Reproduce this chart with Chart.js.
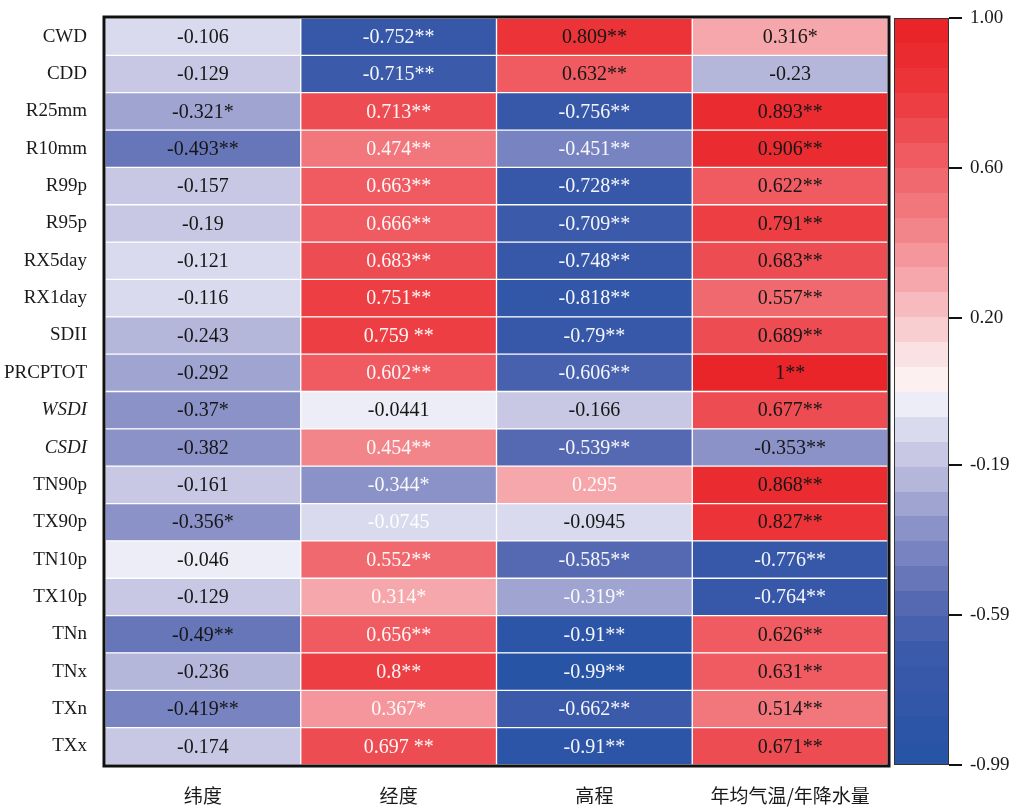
<!DOCTYPE html>
<html>
<head>
<meta charset="utf-8">
<script src="https://cdn.jsdelivr.net/npm/chart.js@4.4.1/dist/chart.umd.min.js"></script>
<style>
  html, body { margin: 0; padding: 0; background: #ffffff; }
  #wrap { width: 1016px; height: 808px; position: relative; }
</style>
</head>
<body>
<div id="wrap"><canvas id="c" width="1016" height="808"></canvas></div>
<script>
// ---------------- DATA ----------------
const rowLabels = ['CWD','CDD','R25mm','R10mm','R99p','R95p','RX5day','RX1day','SDII','PRCPTOT',
                   'WSDI','CSDI','TN90p','TX90p','TN10p','TX10p','TNn','TNx','TXn','TXx'];
const colLabels = ['纬度','经度','高程','年均气温/年降水量'];

const latValues  = [-0.106,-0.129,-0.321,-0.493,-0.157,-0.19,-0.121,-0.116,-0.243,-0.292,
                    -0.37,-0.382,-0.161,-0.356,-0.046,-0.129,-0.49,-0.236,-0.419,-0.174];
const latSig     = ['','','*','**','','','','','','', '*','','','*','','','**','','**',''];

const lonValues  = [-0.752,-0.715,0.713,0.474,0.663,0.666,0.683,0.751,0.759,0.602,
                    -0.0441,0.454,-0.344,-0.0745,0.552,0.314,0.656,0.8,0.367,0.697];
const lonSig     = ['**','**','**','**','**','**','**','**',' **','**', '','**','*','','**','*','**','**','*',' **'];

const elevValues = [0.809,0.632,-0.756,-0.451,-0.728,-0.709,-0.748,-0.818,-0.79,-0.606,
                    -0.166,-0.539,0.295,-0.0945,-0.585,-0.319,-0.91,-0.99,-0.662,-0.91];
const elevSig    = ['**','**','**','**','**','**','**','**','**','**', '','**','','','**','*','**','**','**','**'];

const climValues = [0.316,-0.23,0.893,0.906,0.622,0.791,0.683,0.557,0.689,1,
                    0.677,-0.353,0.868,0.827,-0.776,-0.764,0.626,0.631,0.514,0.671];
const climSig    = ['*','','**','**','**','**','**','**','**','**', '**','**','**','**','**','**','**','**','**','**'];

const colorbarTicks = [1.00, 0.60, 0.20, -0.19, -0.59, -0.99];
const scaleMin = -0.99, scaleMax = 1.00;

// ---------------- STYLE ----------------
const nBands = 30;
const cmapStops = [
  [-0.99, [38,83,165]],
  [-0.69, [60,90,170]],
  [-0.56, [85,104,178]],
  [-0.36, [138,146,200]],
  [-0.227,[180,182,218]],
  [-0.16, [200,200,228]],
  [-0.094,[218,218,238]],
  [-0.028,[236,237,246]],
  [0.038, [252,240,240]],
  [0.105, [250,225,228]],
  [0.30,  [245,168,172]],
  [0.44,  [242,132,137]],
  [0.63,  [239,92,98]],
  [0.80,  [235,55,60]],
  [1.00,  [234,33,39]]
];
// which cells use white text (per column, row indices)
const whiteText = [
  [],
  [0,1,2,3,4,5,6,7,8,9,11,12,13,14,15,16,17,18,19],
  [2,3,4,5,6,7,8,9,11,12,14,15,16,17,18,19],
  [14,15]
];
const italicRows = ['WSDI','CSDI'];

function cmap(v) {
  if (v <= cmapStops[0][0]) return cmapStops[0][1];
  for (let i = 1; i < cmapStops.length; i++) {
    const [v1, c1] = cmapStops[i];
    const [v0, c0] = cmapStops[i-1];
    if (v <= v1) {
      const t = (v - v0) / (v1 - v0);
      return c0.map((a, k) => Math.round(a + (c1[k] - a) * t));
    }
  }
  return cmapStops[cmapStops.length-1][1];
}
const bandStep = (scaleMax - scaleMin) / nBands;
function bandIndex(v) {
  let k = Math.floor((v - scaleMin) / bandStep + 1e-9);
  return Math.max(0, Math.min(nBands - 1, k));
}
function bandColor(k) {
  const c = cmap(scaleMin + (k + 0.5) * bandStep);
  return `rgb(${c[0]},${c[1]},${c[2]})`;
}
function valueColor(v) { return bandColor(bandIndex(v)); }

const columns = [
  [latValues, latSig],
  [lonValues, lonSig],
  [elevValues, elevSig],
  [climValues, climSig]
];

const datasets = columns.map(([vals, sig], c) => ({
  label: colLabels[c],
  data: rowLabels.map((r, i) => ({ y: r, x: [c, c + 1], v: vals[i], s: sig[i] })),
  backgroundColor: ctx => ctx.raw ? valueColor(ctx.raw.v) : '#fff',
  borderColor: '#ffffff',
  borderWidth: 1,
  borderSkipped: false,
  grouped: false,
  barPercentage: 1,
  categoryPercentage: 1
}));

const serif = "'Liberation Serif', 'DejaVu Serif', serif";

const heatPlugin = {
  id: 'heatPlugin',
  afterDatasetsDraw(chart) {
    const ctx = chart.ctx;
    const ca = chart.chartArea;
    ctx.save();
    // cell labels
    ctx.font = `20px ${serif}`;
    ctx.textAlign = 'center';
    ctx.textBaseline = 'middle';
    chart.data.datasets.forEach((ds, c) => {
      const meta = chart.getDatasetMeta(c);
      meta.data.forEach((el, i) => {
        const raw = ds.data[i];
        const cx = (el.x + el.base) / 2;
        ctx.fillStyle = whiteText[c].includes(i) ? 'rgba(255,255,255,0.95)' : '#161616';
        ctx.fillText(String(raw.v) + raw.s, cx, el.y + 1);
      });
    });
    // frame
    ctx.strokeStyle = '#111111';
    ctx.lineWidth = 3;
    ctx.strokeRect(ca.left - 1, ca.top - 1, ca.right - ca.left + 2, ca.bottom - ca.top + 2);
    ctx.restore();
  },
  beforeDraw(chart) {
    // colorbar bands, drawn under the colour-bar axis ticks
    const ctx = chart.ctx;
    const cb = chart.scales.cb;
    const gap = chart.scales.cbar;
    if (!cb || !gap) return;
    ctx.save();
    const x0 = gap.left + 6, x1 = gap.right;
    for (let k = 0; k < nBands; k++) {
      const yTop = cb.getPixelForValue(scaleMin + (k + 1) * bandStep);
      const yBot = cb.getPixelForValue(scaleMin + k * bandStep);
      ctx.fillStyle = bandColor(k);
      ctx.fillRect(x0, Math.floor(yTop), x1 - x0, Math.ceil(yBot) - Math.floor(yTop));
    }
    ctx.strokeStyle = '#333333';
    ctx.lineWidth = 1;
    const yt = cb.getPixelForValue(scaleMax), yb = cb.getPixelForValue(scaleMin);
    ctx.strokeRect(x0 + 0.5, yt + 0.5, x1 - x0 - 1, yb - yt - 1);
    ctx.restore();
  }
};

new Chart(document.getElementById('c'), {
  type: 'bar',
  data: { labels: rowLabels, datasets },
  options: {
    indexAxis: 'y',
    responsive: false,
    animation: false,
    layout: { padding: { top: 18, left: 0, right: 0, bottom: 0 } },
    plugins: { legend: { display: false }, tooltip: { enabled: false } },
    scales: {
      y: {
        type: 'category',
        position: 'left',
        grid: { display: false },
        border: { display: false },
        ticks: {
          color: '#1a1a1a',
          padding: 10,
          font: ctx => ({
            family: serif,
            size: 19,
            style: (ctx.tick && italicRows.includes(ctx.tick.label)) ? 'italic' : 'normal'
          })
        },
        afterFit: s => { s.width = 105; s.paddingTop = 0; s.paddingBottom = 0; }
      },
      x: {
        type: 'linear',
        position: 'bottom',
        min: 0, max: colLabels.length,
        grid: { display: false },
        border: { display: false },
        afterBuildTicks: s => { s.ticks = colLabels.map((_, i) => ({ value: i + 0.5 })); },
        ticks: {
          autoSkip: false, maxRotation: 0,
          padding: 11,
          color: '#1a1a1a',
          font: { family: "'Noto Sans CJK SC', sans-serif", size: 19 },
          callback: (v, i) => colLabels[i]
        },
        afterFit: s => { s.height = 43; }
      },
      cbar: {
        type: 'linear',
        position: 'right',
        weight: 1,
        offset: false,
        min: scaleMin, max: scaleMax,
        grid: { display: false, offset: false },
        border: { display: false },
        ticks: { display: false },
        afterFit: s => { s.width = 61; s.paddingTop = 0; s.paddingBottom = 0; }
      },
      cb: {
        type: 'linear',
        position: 'right',
        weight: 2,
        offset: false,
        min: scaleMin, max: scaleMax,
        border: { display: false },
        grid: { display: true, offset: false, drawOnChartArea: false, drawTicks: true, tickLength: 13, color: '#111111', lineWidth: 2 },
        afterBuildTicks: s => { s.ticks = colorbarTicks.map(v => ({ value: v })); },
        ticks: {
          padding: 8,
          color: '#1a1a1a',
          font: { family: serif, size: 19 },
          callback: v => Number(v).toFixed(2)
        },
        afterFit: s => { s.width = 67; s.paddingTop = 0; s.paddingBottom = 0; }
      }
    }
  },
  plugins: [heatPlugin]
});
</script>
</body>
</html>
